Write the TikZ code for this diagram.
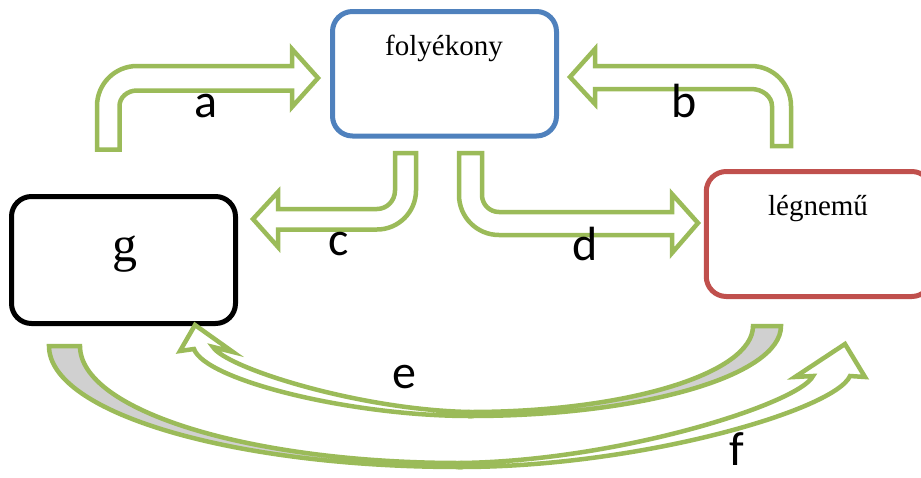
\documentclass[tikz,border=0pt]{standalone}
\usepackage{fontspec}
\setmainfont{Liberation Serif}
\newfontfamily\labfont{Carlito}
\definecolor{grn}{HTML}{9BBB59}
\definecolor{blu}{HTML}{4F81BD}
\definecolor{rd}{HTML}{C0504D}
\definecolor{gry}{HTML}{D0D0D0}
\begin{document}
\begin{tikzpicture}[x=1pt,y=-1pt,
  box/.style={draw, line width=5pt, rounded corners=20pt, minimum width=224pt, inner sep=0pt},
  harrow/.style={draw=grn, line width=4.5pt, fill=white, line join=miter},
  garrow/.style={draw=grn, line width=4.5pt, fill=gry, line join=miter},
  lbl/.style={font=\labfont\fontsize{48}{48}\selectfont, anchor=base, inner sep=0pt},
  btxt/.style={font=\fontsize{29}{29}\selectfont, anchor=base, inner sep=0pt}]
\useasboundingbox (0,0) rectangle (921,477);

% boxes
\node[box, draw=blu, minimum height=124.5pt] (liq) at (444.5,73.75) {};
\node[box, draw=black, minimum height=127pt] (sol) at (123.5,260) {};
\node[box, draw=rd, minimum height=125pt, minimum width=225.5pt] (gas) at (819,234) {};
\node[btxt] (liqt) at (444,55) {folyékony};
\node[btxt] (gast) at (818,215) {légnemű};
\node[font=\fontsize{50}{50}\selectfont, anchor=base, inner sep=0pt] (solt) at (125,261) {g};

% arrow a
\draw[harrow] (97,149.5) -- (97,106) .. controls (97,83.9) and (114.9,66) .. (137,66)
  -- (292,66) -- (292,49) -- (318,78) -- (292,107) -- (292,90.5) -- (137,90.5)
  .. controls (127.3,90.5) and (119.5,97.4) .. (119.5,106) -- (119.5,149.5) -- cycle;
% arrow b
\draw[harrow] (791,146) -- (791,106) .. controls (791,83.9) and (773.1,66) .. (751,66)
  -- (595,66) -- (595,49) -- (570,77) -- (595,104) -- (595,89) -- (751,89)
  .. controls (762.6,89) and (772,96.6) .. (772,106) -- (772,146) -- cycle;
% arrow c
\draw[harrow] (395,153) -- (395,190.5) .. controls (395,200.7) and (386.9,209) .. (377,209)
  -- (278,209) -- (278,192) -- (253,219) -- (278,247) -- (278,229.5) -- (377,229.5)
  .. controls (398.5,229.5) and (416,212) .. (416,190.5) -- (416,153) -- cycle;
% arrow d
\draw[harrow] (459,153) -- (459,195) .. controls (459,217.1) and (476.9,235) .. (499,235)
  -- (672,235) -- (672,253) -- (698,223) -- (672,194) -- (672,212) -- (499,212)
  .. controls (489.6,212) and (482,204.4) .. (482,195) -- (482,153) -- cycle;

% arrow e
\draw[garrow] (781,326) -- (753,326) .. controls (753,373.5) and (626.2,412) .. (470,412)
  -- (470,416) .. controls (641.7,416) and (781,375.7) .. (781,326) -- cycle;
\draw[harrow] (470,416) .. controls (350,416) and (205,380) .. (194,349)
  -- (180,351) -- (195,325) -- (233,352) -- (213,347)
  .. controls (226,368) and (360,410) .. (470,412) -- cycle;

% arrow f
\draw[garrow] (49,346) -- (80,346) .. controls (80,410.6) and (250.2,463) .. (460,463)
  -- (460,467) .. controls (233.1,467) and (49,412.8) .. (49,346) -- cycle;
\draw[harrow] (460,467) .. controls (640,467) and (835,410) .. (850,376)
  -- (865,377) -- (845,344) -- (795,377) -- (813,376)
  .. controls (800,403) and (620,461) .. (460,463) -- cycle;

% labels
\node[lbl] (la) at (206,117) {a};
\node[lbl] (lb) at (684,117) {b};
\node[lbl] (lc) at (339,255) {c};
\node[lbl] (ld) at (585,260) {d};
\node[lbl] (le) at (404,388) {e};
\node[lbl] (lf) at (737,465) {f};
\end{tikzpicture}
\end{document}
